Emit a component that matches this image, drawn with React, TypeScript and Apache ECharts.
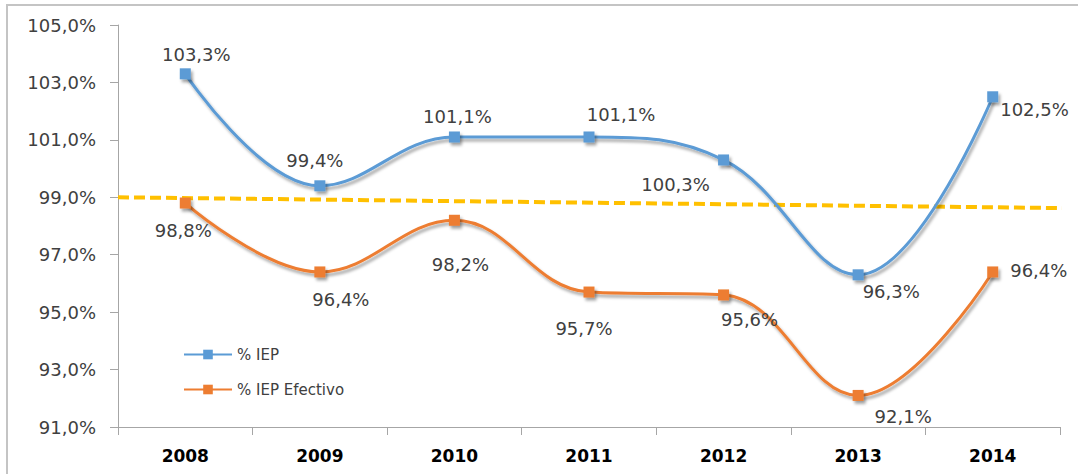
import React, { useEffect, useRef } from 'react';
import * as echarts from 'echarts';

const years = ['2008', '2009', '2010', '2011', '2012', '2013', '2014'];
const iep = [103.3, 99.4, 101.1, 101.1, 100.3, 96.3, 102.5];
const iepEfectivo = [98.8, 96.4, 98.2, 95.7, 95.6, 92.1, 96.4];
// dashed reference (trend) line: [x in category units from left edge, value]
const trendPoints: [number, number][] = [
  [0, 99.0],
  [7.09, 98.62],
];
const yMin = 91;
const yMax = 105;
const yStep = 2;

const iepLabelPos: [string, number, number][] = [
  ['top', 11, 0],
  ['top', -5, -6],
  ['top', 3, -1],
  ['top', 32, -3],
  ['bottom', -48, 5],
  ['right', -6, 17],
  ['right', -3, 13],
];
const efLabelPos: [string, number, number][] = [
  ['bottom', -2, 8],
  ['bottom', 21, 8],
  ['bottom', 6, 25],
  ['bottom', -5, 17],
  ['bottom', 26, 5],
  ['bottom', 45, 2],
  ['right', 7, -1],
];

const fmt = (v: number) => v.toFixed(1).replace('.', ',') + '%';
const FONT = '"DejaVu Sans", Verdana, sans-serif';

export default function App() {
  const ref = useRef<HTMLDivElement>(null);
  useEffect(() => {
    if (!ref.current) return;
    const chart = echarts.init(ref.current, undefined, { renderer: 'svg' });
    const shadow = {
      shadowColor: 'rgba(0,0,0,0.35)',
      shadowBlur: 3,
      shadowOffsetX: 2,
      shadowOffsetY: 3,
    };
    const mk = (vals: number[], pos: [string, number, number][]) =>
      vals.map((v, i) => ({
        value: v,
        label: { position: pos[i][0], offset: [pos[i][1], pos[i][2]] },
      }));
    const labelStyle = {
      show: true,
      fontSize: 18,
      color: '#404040',
      fontFamily: FONT,
      formatter: (p: any) => fmt(p.value),
    };
    chart.setOption({
      animation: false,
      backgroundColor: '#ffffff',
      textStyle: { fontFamily: FONT },
      grid: { left: 118, right: 18, top: 25, bottom: 47, containLabel: false },
      legend: {
        data: ['% IEP', '% IEP Efectivo'],
        orient: 'vertical',
        left: 183,
        top: 347,
        padding: 0,
        itemWidth: 48,
        itemHeight: 12,
        itemGap: 20,
        textStyle: { fontSize: 15, color: '#404040', fontFamily: FONT },
      },
      xAxis: [
        {
          type: 'category',
          data: years,
          boundaryGap: true,
          axisLine: { lineStyle: { color: '#a6a6a6', width: 1 } },
          axisTick: { show: true, length: 8, lineStyle: { color: '#a6a6a6' } },
          axisLabel: {
            fontSize: 17,
            fontWeight: 'bold',
            color: '#000000',
            margin: 20,
            fontFamily: FONT,
          },
        },
        {
          type: 'value',
          min: 0,
          max: 7,
          show: false,
        },
      ],
      yAxis: {
        type: 'value',
        min: yMin,
        max: yMax,
        interval: yStep,
        axisLine: { show: true, lineStyle: { color: '#a6a6a6', width: 1 } },
        axisTick: { show: true, length: 8, lineStyle: { color: '#a6a6a6' } },
        splitLine: { show: false },
        axisLabel: {
          fontSize: 18,
          color: '#404040',
          margin: 22,
          fontFamily: FONT,
          formatter: (v: number) => fmt(v),
        },
      },
      graphic: [
        {
          type: 'rect',
          shape: { x: 7, y: 5, width: 1100, height: 500 },
          style: { fill: 'none', stroke: '#c4c4c4', lineWidth: 2 },
          silent: true,
        },
      ],
      series: [
        {
          name: 'trend',
          type: 'line',
          xAxisIndex: 1,
          data: trendPoints,
          symbol: 'none',
          clip: false,
          silent: true,
          lineStyle: { color: '#FFC000', width: 4, type: [11, 5] },
          z: 1,
        },
        {
          name: '% IEP',
          type: 'line',
          data: mk(iep, iepLabelPos),
          smooth: 0.4,
          symbol: 'rect',
          symbolSize: 11,
          color: '#5B9BD5',
          lineStyle: { width: 3, color: '#5B9BD5', ...shadow },
          itemStyle: { color: '#5B9BD5', ...shadow },
          label: labelStyle,
          z: 3,
        },
        {
          name: '% IEP Efectivo',
          type: 'line',
          data: mk(iepEfectivo, efLabelPos),
          smooth: 0.4,
          symbol: 'rect',
          symbolSize: 11,
          color: '#ED7D31',
          lineStyle: { width: 3, color: '#ED7D31', ...shadow },
          itemStyle: { color: '#ED7D31', ...shadow },
          label: labelStyle,
          z: 3,
        },
      ],
    });
    return () => chart.dispose();
  }, []);
  return (
    <div
      ref={ref}
      style={{ position: 'fixed', left: 0, top: 0, width: 1078, height: 474 }}
    />
  );
}
